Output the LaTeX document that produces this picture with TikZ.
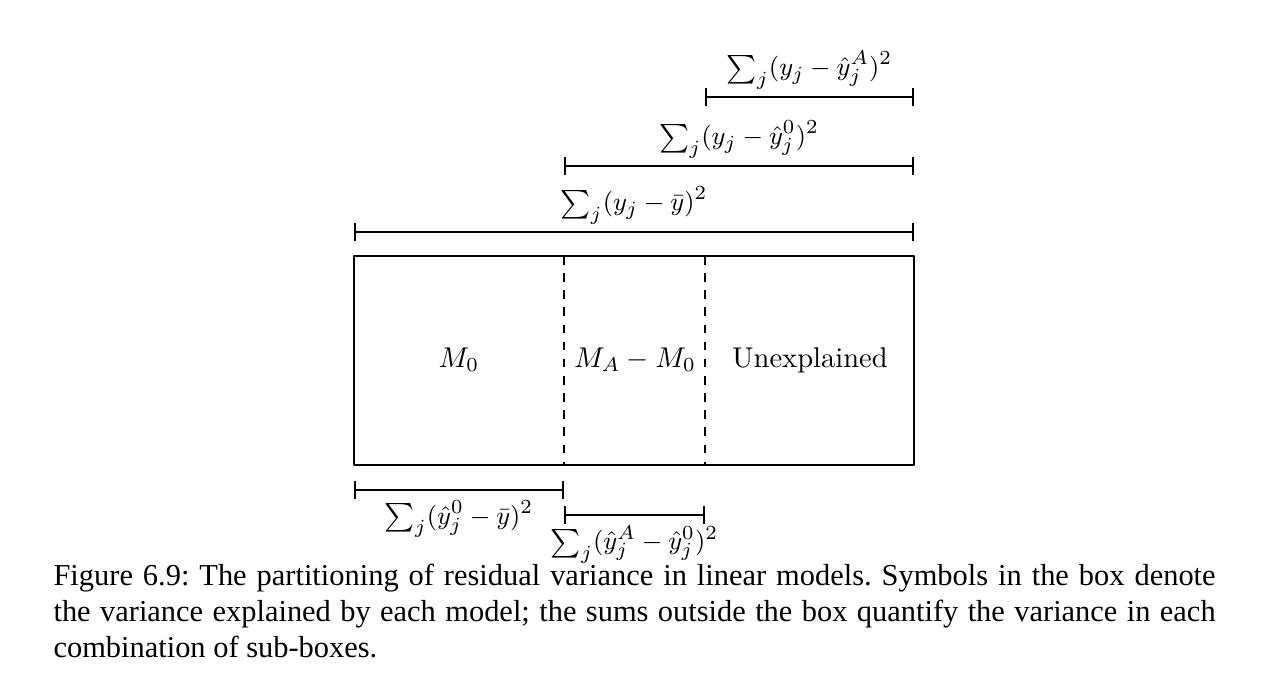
\documentclass[tikz,border=0pt]{standalone}
\usepackage{fontspec}
\newfontfamily\capfont{Liberation Serif}
\begin{document}
\frenchspacing
\begin{tikzpicture}[x=0.35pt, y=-0.35pt, line join=round, font=\normalsize,
	span/.style={|-|, semithick},
	split/.style={dashed, semithick},
	sumlabel/.style={font=\fontsize{9.3}{11}\selectfont}]
	\useasboundingbox (0,0) rectangle (1280,689);
	\def\xa{354}
	\def\xb{564}
	\def\xc{705}
	\def\xd{914}
	\def\yt{256}
	\def\yb{465}
	\path
	(\xa,\yt) coordinate (TL)
	(\xd,\yb) coordinate (BR)
	(\xb,\yt) coordinate (P)
	(\xb,\yb) coordinate (P')
	(\xc,\yt) coordinate (Q)
	(\xc,\yb) coordinate (Q')
	;
	% the box and its parts
	\draw[semithick] (TL) rectangle (BR);
	\draw[split] (P)--(P');
	\draw[split] (Q)--(Q');
	\node (m0) at (459,360) {$M_0$};
	\node (ma) at (635,360) {$M_A-M_0$};
	\node (un) at (810,360) {Unexplained};
	
	% sums above the box
	\path
	(\xc,97) coordinate (a1) (\xd,97) coordinate (a2)
	(\xb,166) coordinate (b1) (\xd,166) coordinate (b2)
	(\xa,232) coordinate (c1) (\xd,232) coordinate (c2)
	;
	\draw[span] (a1)--(a2) node[sumlabel, midway, above=1pt, inner sep=1.5pt] (sa) {$\sum_j (y_j-\hat y_j^A)^2$};
	\draw[span] (b1)--(b2) node[sumlabel, midway, above=1pt, inner sep=1.5pt] (sb) {$\sum_j (y_j-\hat y_j^0)^2$};
	\draw[span] (c1)--(c2) node[sumlabel, midway, above=1pt, inner sep=1.5pt] (sc) {$\sum_j (y_j-\bar y)^2$};
	
	% sums below the box
	\path
	(\xa,490) coordinate (d1) (\xb,490) coordinate (d2)
	(\xb,515) coordinate (e1) (\xc,515) coordinate (e2)
	;
	\draw[span] (d1)--(d2) node[sumlabel, midway, below=0pt] (sd) {$\sum_j (\hat y_j^0-\bar y)^2$};
	\draw[span] (e1)--(e2) node[sumlabel, midway, below=0pt] (se) {$\sum_j (\hat y_j^A-\hat y_j^0)^2$};
	
	% caption
	\node[anchor=north west, inner sep=0pt, text width=406.7pt, align=justify,
		font=\capfont\fontsize{10.65}{12.6}\selectfont] (cap) at (53,563)
		{Figure 6.9: The partitioning of residual variance in linear models. Symbols in the box denote the variance explained by each model; the sums outside the box quantify the variance in each combination of sub-boxes.};
\end{tikzpicture}
\end{document}
